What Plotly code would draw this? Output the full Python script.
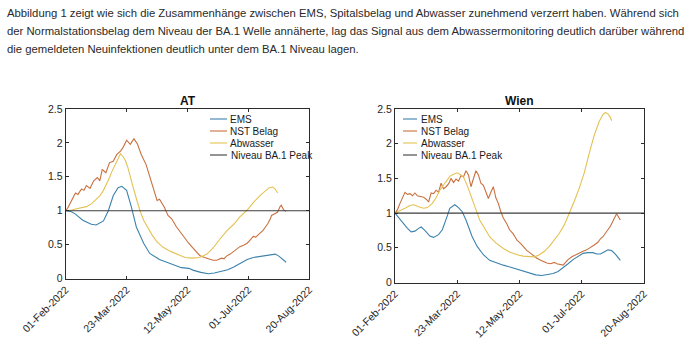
import pandas as pd
import plotly.graph_objects as go

# ---------------- data (days since 01-Feb-2022, relative value) ----------------
start_date = "2022-02-01"
end_date = "2022-08-20"
tick_dates = ["2022-02-01", "2022-03-23", "2022-05-12", "2022-07-01", "2022-08-20"]
tick_labels = ["01-Feb-2022", "23-Mar-2022", "12-May-2022", "01-Jul-2022", "20-Aug-2022"]
y_ticks = [0, 0.5, 1, 1.5, 2, 2.5]
y_tick_labels = ["0", "0.5", "1", "1.5", "2", "2.5"]
series_names = ["EMS", "NST Belag", "Abwasser", "Niveau BA.1 Peak"]
niveau = 1.0

at_ems_days = [0, 4, 8, 14, 21, 25, 31, 35, 39, 43, 46, 50, 54, 58, 64, 69, 77, 88, 95, 101, 105, 111, 117, 122, 127, 133, 138, 143, 149, 154, 160, 165, 169, 172, 175, 178, 181]
at_ems = [1.0, 0.99, 0.95, 0.86, 0.80, 0.79, 0.85, 1.0, 1.22, 1.34, 1.36, 1.30, 1.05, 0.76, 0.52, 0.37, 0.28, 0.20, 0.16, 0.15, 0.12, 0.09, 0.07, 0.08, 0.10, 0.13, 0.17, 0.22, 0.28, 0.31, 0.33, 0.34, 0.36, 0.36, 0.33, 0.29, 0.24]

at_nst_days = [0, 2, 4, 8, 10, 13, 15, 17, 20, 23, 26, 28, 30, 33, 36, 39, 42, 45, 47, 50, 53, 56, 59, 62, 66, 69, 71, 75, 77, 81, 84, 87, 91, 95, 98, 101, 104, 107, 110, 114, 118, 121, 124, 128, 130, 132, 135, 138, 141, 143, 146, 149, 151, 154, 156, 158, 160, 162, 164, 166, 168, 169, 172, 174, 176, 177, 179, 181]
at_nst = [1.0, 1.05, 1.12, 1.26, 1.24, 1.32, 1.30, 1.37, 1.33, 1.44, 1.49, 1.44, 1.61, 1.56, 1.71, 1.73, 1.83, 1.88, 1.93, 2.04, 1.98, 2.06, 1.98, 1.83, 1.68, 1.49, 1.37, 1.15, 1.17, 1.05, 0.93, 0.88, 0.76, 0.66, 0.60, 0.52, 0.46, 0.40, 0.34, 0.31, 0.29, 0.27, 0.27, 0.30, 0.29, 0.33, 0.36, 0.40, 0.44, 0.47, 0.49, 0.52, 0.56, 0.62, 0.61, 0.64, 0.68, 0.71, 0.76, 0.81, 0.88, 0.93, 0.96, 0.98, 1.06, 1.08, 1.01, 0.99]

at_abw_days = [0, 5, 9, 13, 17, 21, 24, 28, 31, 34, 36, 38, 41, 44, 45, 47, 49, 51, 53, 55, 58, 61, 64, 67, 71, 75, 80, 86, 92, 98, 104, 110, 116, 121, 127, 132, 138, 143, 149, 154, 160, 164, 167, 170, 172, 174]
at_abw = [1.0, 1.01, 1.03, 1.05, 1.06, 1.10, 1.15, 1.22, 1.30, 1.40, 1.49, 1.58, 1.70, 1.82, 1.84, 1.80, 1.74, 1.64, 1.52, 1.37, 1.18, 1.0, 0.86, 0.76, 0.64, 0.54, 0.46, 0.40, 0.35, 0.31, 0.30, 0.31, 0.36, 0.45, 0.59, 0.70, 0.80, 0.91, 1.01, 1.12, 1.23, 1.30, 1.34, 1.35, 1.32, 1.26]

w_ems_days = [0, 3, 7, 10, 13, 16, 19, 21, 24, 28, 31, 35, 38, 40, 42, 44, 46, 48, 51, 54, 57, 59, 62, 66, 71, 76, 82, 87, 93, 98, 103, 108, 113, 118, 122, 127, 131, 135, 139, 143, 147, 151, 155, 159, 162, 165, 168, 171, 174, 177, 181]
w_ems = [1.0, 0.93, 0.85, 0.78, 0.73, 0.74, 0.78, 0.80, 0.75, 0.67, 0.65, 0.69, 0.76, 0.85, 0.96, 1.07, 1.10, 1.12, 1.08, 1.02, 0.90, 0.81, 0.66, 0.52, 0.40, 0.32, 0.28, 0.25, 0.22, 0.19, 0.16, 0.13, 0.11, 0.10, 0.11, 0.13, 0.16, 0.21, 0.27, 0.33, 0.38, 0.42, 0.43, 0.43, 0.41, 0.41, 0.44, 0.47, 0.46, 0.41, 0.32]

w_nst_days = [0, 2, 4, 6, 8, 10, 12, 14, 16, 18, 20, 23, 25, 27, 29, 31, 33, 35, 37, 39, 41, 43, 45, 47, 49, 51, 53, 55, 57, 59, 61, 63, 65, 67, 69, 71, 73, 75, 77, 79, 81, 83, 85, 87, 90, 92, 95, 98, 101, 104, 106, 109, 112, 114, 117, 120, 122, 125, 128, 130, 133, 135, 137, 139, 142, 145, 148, 151, 154, 157, 160, 163, 165, 167, 169, 171, 173, 175, 177, 178, 180, 181]
w_nst = [1.0, 1.05, 1.14, 1.22, 1.30, 1.27, 1.28, 1.25, 1.29, 1.25, 1.24, 1.23, 1.20, 1.16, 1.29, 1.28, 1.33, 1.30, 1.43, 1.35, 1.38, 1.42, 1.50, 1.44, 1.49, 1.46, 1.54, 1.52, 1.61, 1.55, 1.38, 1.50, 1.61, 1.55, 1.43, 1.40, 1.30, 1.21, 1.30, 1.38, 1.22, 1.14, 1.02, 0.93, 0.84, 0.76, 0.70, 0.61, 0.56, 0.50, 0.46, 0.42, 0.37, 0.35, 0.32, 0.29, 0.28, 0.27, 0.29, 0.27, 0.26, 0.25, 0.29, 0.33, 0.37, 0.40, 0.42, 0.45, 0.47, 0.50, 0.54, 0.58, 0.63, 0.66, 0.72, 0.76, 0.81, 0.88, 0.95, 0.99, 0.93, 0.90]

w_abw_days = [0, 4, 8, 12, 15, 19, 23, 26, 30, 33, 36, 40, 44, 47, 50, 53, 55, 58, 60, 64, 68, 72, 76, 81, 87, 92, 98, 103, 108, 112, 116, 120, 124, 128, 132, 136, 140, 144, 148, 152, 156, 160, 164, 167, 169, 171, 173, 174]
w_abw = [1.0, 1.03, 1.07, 1.11, 1.12, 1.09, 1.07, 1.08, 1.14, 1.22, 1.33, 1.43, 1.53, 1.56, 1.58, 1.55, 1.52, 1.40, 1.29, 1.10, 0.90, 0.77, 0.66, 0.57, 0.49, 0.44, 0.40, 0.38, 0.37, 0.37, 0.40, 0.45, 0.52, 0.61, 0.71, 0.83, 0.99, 1.17, 1.36, 1.58, 1.86, 2.12, 2.32, 2.42, 2.45, 2.43, 2.38, 2.33]

paragraph = [
    "Abbildung 1 zeigt wie sich die Zusammenhänge zwischen EMS, Spitalsbelag und Abwasser zunehmend verzerrt haben. Während sich",
    "der Normalstationsbelag dem Niveau der BA.1 Welle annäherte, lag das Signal aus dem Abwassermonitoring deutlich darüber während",
    "die gemeldeten Neuinfektionen deutlich unter dem BA.1 Niveau lagen.",
]

# ---------------- styling ----------------
colors = ["#3b82ad", "#c9703f", "#e3c252", "#3c3c3c"]
W, H = 700, 354
FONT = "Liberation Sans, Arial, sans-serif"
base = pd.Timestamp(start_date)


def to_dates(days):
    return [base + pd.Timedelta(days=int(d)) for d in days]


fig = go.Figure()

panels = [
    ("AT", "x", "y", [(at_ems_days, at_ems), (at_nst_days, at_nst), (at_abw_days, at_abw)]),
    ("Wien", "x2", "y2", [(w_ems_days, w_ems), (w_nst_days, w_nst), (w_abw_days, w_abw)]),
]

for title, xa, ya, series in panels:
    for i, (d, v) in enumerate(series):
        fig.add_trace(go.Scatter(x=to_dates(d), y=v, mode="lines", name=series_names[i],
                                 line=dict(color=colors[i], width=1.1), xaxis=xa, yaxis=ya,
                                 showlegend=False))
    fig.add_trace(go.Scatter(x=[start_date, end_date], y=[niveau, niveau], mode="lines",
                             name=series_names[3], line=dict(color=colors[3], width=1.1),
                             xaxis=xa, yaxis=ya, showlegend=False))

# axes pixel boxes (left, right, top, bottom)
boxes = {"": (65.7, 309.3, 109, 278.5), "2": (395, 644, 109, 282.5)}

axis_common = dict(showline=True, linecolor="#2b2b2b", linewidth=1, mirror="allticks",
                   ticks="inside", ticklen=3, tickcolor="#2b2b2b", showgrid=False,
                   zeroline=False, automargin=False,
                   tickfont=dict(family=FONT, size=10.5, color="#262626"))
for k, (l, r, t, b) in boxes.items():
    fig.update_layout(**{
        "xaxis" + k: dict(axis_common, domain=[l / W, r / W], anchor="y" + k,
                          type="date", range=[start_date, end_date],
                          tickvals=tick_dates, ticktext=tick_labels, tickangle=-45),
        "yaxis" + k: dict(axis_common, domain=[(H - b) / H, (H - t) / H], anchor="x" + k,
                          range=[0, 2.5], tickvals=y_ticks, ticktext=y_tick_labels),
    })

annotations = []
for i, line in enumerate(paragraph):
    annotations.append(dict(text=line, x=5 / W, y=1 - (13 + 18 * i) / H, xref="paper", yref="paper",
                            xanchor="left", yanchor="middle", showarrow=False,
                            font=dict(family=FONT, size=11.3, color="#2a2a2a")))
for (title, _, _, _), (k, (l, r, t, b)) in zip(panels, boxes.items()):
    annotations.append(dict(text="<b>%s</b>" % title, x=(l + r) / 2 / W, y=1 - 100.5 / H,
                            xref="paper", yref="paper", xanchor="center", yanchor="middle",
                            showarrow=False, font=dict(family=FONT, size=12, color="#111")))

# manual compact legends (MATLAB style)
shapes = []
legend_pos = {"": (210, 227, 119), "2": (403, 417, 119)}
for k, (x0, x1, y0) in legend_pos.items():
    for i, name in enumerate(series_names):
        yy = 1 - (y0 + 12 * i) / H
        shapes.append(dict(type="line", xref="paper", yref="paper", x0=x0 / W, x1=x1 / W,
                           y0=yy, y1=yy, line=dict(color=colors[i], width=1.1)))
        annotations.append(dict(text=name, x=(x1 + 1.5) / W, y=yy, xref="paper", yref="paper",
                                xanchor="left", yanchor="middle", showarrow=False,
                                font=dict(family=FONT, size=10, color="#1a1a1a")))

fig.update_layout(width=W, height=H, margin=dict(l=0, r=0, t=0, b=0),
                  paper_bgcolor="white", plot_bgcolor="white",
                  annotations=annotations, shapes=shapes, showlegend=False)

fig.write_html("out.html")
